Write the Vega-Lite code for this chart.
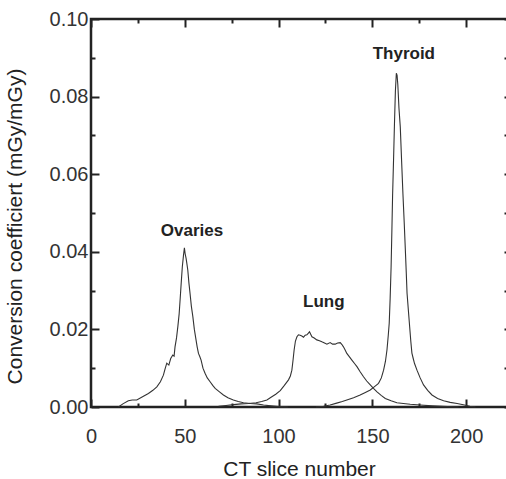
{
  "$schema": "https://vega.github.io/schema/vega-lite/v6.json",
  "width": 422,
  "height": 388,
  "autosize": {"type": "none"},
  "padding": {"left": 91, "top": 19, "right": 0, "bottom": 72},
  "background": "white",
  "config": {
    "view": {"stroke": "#222", "strokeWidth": 2.5},
    "axis": {"grid": false, "domain": false, "tickColor": "#222", "tickWidth": 2, "labelFont": "Liberation Sans", "titleFont": "Liberation Sans", "labelColor": "#333", "titleColor": "#222", "labelFlush": false, "labelOverlap": false}
  },
  "datasets": {
    "curves": [
      {"organ": "Ovaries", "slice": 14.6, "coef": 0},
      {"organ": "Ovaries", "slice": 17, "coef": 0.0008},
      {"organ": "Ovaries", "slice": 19.9, "coef": 0.0016},
      {"organ": "Ovaries", "slice": 22, "coef": 0.0018},
      {"organ": "Ovaries", "slice": 24.4, "coef": 0.0018},
      {"organ": "Ovaries", "slice": 27, "coef": 0.0025},
      {"organ": "Ovaries", "slice": 30.6, "coef": 0.0035},
      {"organ": "Ovaries", "slice": 33, "coef": 0.0043},
      {"organ": "Ovaries", "slice": 35.1, "coef": 0.0052},
      {"organ": "Ovaries", "slice": 37, "coef": 0.0065},
      {"organ": "Ovaries", "slice": 38.6, "coef": 0.0082},
      {"organ": "Ovaries", "slice": 39.5, "coef": 0.0098},
      {"organ": "Ovaries", "slice": 40.4, "coef": 0.0113},
      {"organ": "Ovaries", "slice": 41.5, "coef": 0.0108},
      {"organ": "Ovaries", "slice": 42.5, "coef": 0.0125},
      {"organ": "Ovaries", "slice": 43.6, "coef": 0.0134},
      {"organ": "Ovaries", "slice": 44.3, "coef": 0.0131},
      {"organ": "Ovaries", "slice": 44.8, "coef": 0.0155},
      {"organ": "Ovaries", "slice": 45.6, "coef": 0.0178},
      {"organ": "Ovaries", "slice": 46.3, "coef": 0.0207},
      {"organ": "Ovaries", "slice": 47, "coef": 0.024},
      {"organ": "Ovaries", "slice": 47.5, "coef": 0.0276},
      {"organ": "Ovaries", "slice": 48.1, "coef": 0.032},
      {"organ": "Ovaries", "slice": 48.7, "coef": 0.0362},
      {"organ": "Ovaries", "slice": 49.3, "coef": 0.039},
      {"organ": "Ovaries", "slice": 49.8, "coef": 0.041},
      {"organ": "Ovaries", "slice": 50.2, "coef": 0.0395},
      {"organ": "Ovaries", "slice": 50.7, "coef": 0.0383},
      {"organ": "Ovaries", "slice": 51.1, "coef": 0.037},
      {"organ": "Ovaries", "slice": 51.6, "coef": 0.0353},
      {"organ": "Ovaries", "slice": 52.2, "coef": 0.032},
      {"organ": "Ovaries", "slice": 52.8, "coef": 0.0293},
      {"organ": "Ovaries", "slice": 53.5, "coef": 0.026},
      {"organ": "Ovaries", "slice": 54.3, "coef": 0.0233},
      {"organ": "Ovaries", "slice": 55.1, "coef": 0.02},
      {"organ": "Ovaries", "slice": 56, "coef": 0.0173},
      {"organ": "Ovaries", "slice": 56.6, "coef": 0.0155},
      {"organ": "Ovaries", "slice": 57.3, "coef": 0.0138},
      {"organ": "Ovaries", "slice": 58, "coef": 0.013},
      {"organ": "Ovaries", "slice": 58.7, "coef": 0.0121},
      {"organ": "Ovaries", "slice": 59.7, "coef": 0.01},
      {"organ": "Ovaries", "slice": 60.8, "coef": 0.0087},
      {"organ": "Ovaries", "slice": 62, "coef": 0.0075},
      {"organ": "Ovaries", "slice": 63.5, "coef": 0.0065},
      {"organ": "Ovaries", "slice": 65, "coef": 0.0055},
      {"organ": "Ovaries", "slice": 66.2, "coef": 0.0048},
      {"organ": "Ovaries", "slice": 68.5, "coef": 0.0039},
      {"organ": "Ovaries", "slice": 70.6, "coef": 0.0031},
      {"organ": "Ovaries", "slice": 73, "coef": 0.0024},
      {"organ": "Ovaries", "slice": 75.9, "coef": 0.0018},
      {"organ": "Ovaries", "slice": 78.5, "coef": 0.0014},
      {"organ": "Ovaries", "slice": 81.3, "coef": 0.0011},
      {"organ": "Ovaries", "slice": 85, "coef": 0.0009},
      {"organ": "Ovaries", "slice": 88.4, "coef": 0.0008},
      {"organ": "Ovaries", "slice": 92, "coef": 0.0005},
      {"organ": "Ovaries", "slice": 96, "coef": 0.0003},
      {"organ": "Ovaries", "slice": 100, "coef": 0.0001},
      {"organ": "Ovaries", "slice": 105, "coef": 0},
      {"organ": "Lung", "slice": 68, "coef": 0.0002},
      {"organ": "Lung", "slice": 72, "coef": 0.0004},
      {"organ": "Lung", "slice": 76, "coef": 0.0006},
      {"organ": "Lung", "slice": 80, "coef": 0.0008},
      {"organ": "Lung", "slice": 84, "coef": 0.0009},
      {"organ": "Lung", "slice": 88, "coef": 0.0011},
      {"organ": "Lung", "slice": 91, "coef": 0.0014},
      {"organ": "Lung", "slice": 93.8, "coef": 0.0018},
      {"organ": "Lung", "slice": 96, "coef": 0.0025},
      {"organ": "Lung", "slice": 98.5, "coef": 0.0033},
      {"organ": "Lung", "slice": 100.9, "coef": 0.0042},
      {"organ": "Lung", "slice": 103, "coef": 0.0055},
      {"organ": "Lung", "slice": 105.3, "coef": 0.007},
      {"organ": "Lung", "slice": 106.3, "coef": 0.008},
      {"organ": "Lung", "slice": 107.1, "coef": 0.0095},
      {"organ": "Lung", "slice": 107.7, "coef": 0.012},
      {"organ": "Lung", "slice": 108.3, "coef": 0.0147},
      {"organ": "Lung", "slice": 109, "coef": 0.017},
      {"organ": "Lung", "slice": 109.8, "coef": 0.0181},
      {"organ": "Lung", "slice": 110.6, "coef": 0.0186},
      {"organ": "Lung", "slice": 111.5, "coef": 0.0185},
      {"organ": "Lung", "slice": 112.4, "coef": 0.0183},
      {"organ": "Lung", "slice": 113.3, "coef": 0.018},
      {"organ": "Lung", "slice": 114.2, "coef": 0.0185},
      {"organ": "Lung", "slice": 115.1, "coef": 0.0186},
      {"organ": "Lung", "slice": 115.8, "coef": 0.019},
      {"organ": "Lung", "slice": 116.5, "coef": 0.0194},
      {"organ": "Lung", "slice": 117.2, "coef": 0.0187},
      {"organ": "Lung", "slice": 117.8, "coef": 0.0181},
      {"organ": "Lung", "slice": 119, "coef": 0.0178},
      {"organ": "Lung", "slice": 120.4, "coef": 0.0173},
      {"organ": "Lung", "slice": 121.8, "coef": 0.0171},
      {"organ": "Lung", "slice": 123.1, "coef": 0.0168},
      {"organ": "Lung", "slice": 124.5, "coef": 0.0165},
      {"organ": "Lung", "slice": 125.8, "coef": 0.0162},
      {"organ": "Lung", "slice": 126.7, "coef": 0.0164},
      {"organ": "Lung", "slice": 127.5, "coef": 0.0166},
      {"organ": "Lung", "slice": 128.8, "coef": 0.0162},
      {"organ": "Lung", "slice": 130.2, "coef": 0.0162},
      {"organ": "Lung", "slice": 131.5, "coef": 0.0165},
      {"organ": "Lung", "slice": 132.9, "coef": 0.0166},
      {"organ": "Lung", "slice": 133.8, "coef": 0.0161},
      {"organ": "Lung", "slice": 134.6, "coef": 0.0155},
      {"organ": "Lung", "slice": 135.5, "coef": 0.0147},
      {"organ": "Lung", "slice": 136.4, "coef": 0.0138},
      {"organ": "Lung", "slice": 137.7, "coef": 0.013},
      {"organ": "Lung", "slice": 139.1, "coef": 0.0121},
      {"organ": "Lung", "slice": 140.5, "coef": 0.0112},
      {"organ": "Lung", "slice": 141.8, "coef": 0.0104},
      {"organ": "Lung", "slice": 143.5, "coef": 0.0091},
      {"organ": "Lung", "slice": 145.3, "coef": 0.0078},
      {"organ": "Lung", "slice": 147, "coef": 0.0067},
      {"organ": "Lung", "slice": 148.9, "coef": 0.0057},
      {"organ": "Lung", "slice": 150.6, "coef": 0.0048},
      {"organ": "Lung", "slice": 152.5, "coef": 0.0039},
      {"organ": "Lung", "slice": 154.7, "coef": 0.003},
      {"organ": "Lung", "slice": 156.9, "coef": 0.0022},
      {"organ": "Lung", "slice": 160, "coef": 0.0016},
      {"organ": "Lung", "slice": 163.1, "coef": 0.0011},
      {"organ": "Lung", "slice": 166.5, "coef": 0.0009},
      {"organ": "Lung", "slice": 170.2, "coef": 0.0007},
      {"organ": "Lung", "slice": 175.5, "coef": 0.0005},
      {"organ": "Lung", "slice": 182, "coef": 0.0003},
      {"organ": "Lung", "slice": 190, "coef": 0.0001},
      {"organ": "Lung", "slice": 196, "coef": 0},
      {"organ": "Thyroid", "slice": 120, "coef": 0},
      {"organ": "Thyroid", "slice": 124, "coef": 0.0002},
      {"organ": "Thyroid", "slice": 127.5, "coef": 0.0005},
      {"organ": "Thyroid", "slice": 131, "coef": 0.001},
      {"organ": "Thyroid", "slice": 134, "coef": 0.0014},
      {"organ": "Thyroid", "slice": 136.4, "coef": 0.0018},
      {"organ": "Thyroid", "slice": 140, "coef": 0.0024},
      {"organ": "Thyroid", "slice": 143.5, "coef": 0.0031},
      {"organ": "Thyroid", "slice": 146, "coef": 0.0037},
      {"organ": "Thyroid", "slice": 148.9, "coef": 0.0044},
      {"organ": "Thyroid", "slice": 151, "coef": 0.0052},
      {"organ": "Thyroid", "slice": 153.3, "coef": 0.0061},
      {"organ": "Thyroid", "slice": 154.8, "coef": 0.0075},
      {"organ": "Thyroid", "slice": 156, "coef": 0.0095},
      {"organ": "Thyroid", "slice": 157, "coef": 0.0118},
      {"organ": "Thyroid", "slice": 157.8, "coef": 0.0147},
      {"organ": "Thyroid", "slice": 158.5, "coef": 0.0185},
      {"organ": "Thyroid", "slice": 159, "coef": 0.0216},
      {"organ": "Thyroid", "slice": 159.5, "coef": 0.028},
      {"organ": "Thyroid", "slice": 160, "coef": 0.036},
      {"organ": "Thyroid", "slice": 160.4, "coef": 0.045},
      {"organ": "Thyroid", "slice": 160.8, "coef": 0.0545},
      {"organ": "Thyroid", "slice": 161.3, "coef": 0.0635},
      {"organ": "Thyroid", "slice": 161.8, "coef": 0.073},
      {"organ": "Thyroid", "slice": 162.3, "coef": 0.0815},
      {"organ": "Thyroid", "slice": 162.8, "coef": 0.086},
      {"organ": "Thyroid", "slice": 163.2, "coef": 0.0855},
      {"organ": "Thyroid", "slice": 163.6, "coef": 0.083},
      {"organ": "Thyroid", "slice": 164.2, "coef": 0.077},
      {"organ": "Thyroid", "slice": 164.9, "coef": 0.0722},
      {"organ": "Thyroid", "slice": 165.6, "coef": 0.0635},
      {"organ": "Thyroid", "slice": 166.3, "coef": 0.0551},
      {"organ": "Thyroid", "slice": 167, "coef": 0.0475},
      {"organ": "Thyroid", "slice": 167.6, "coef": 0.0405},
      {"organ": "Thyroid", "slice": 168.1, "coef": 0.0345},
      {"organ": "Thyroid", "slice": 168.5, "coef": 0.0294},
      {"organ": "Thyroid", "slice": 169.2, "coef": 0.025},
      {"organ": "Thyroid", "slice": 169.9, "coef": 0.0207},
      {"organ": "Thyroid", "slice": 170.5, "coef": 0.017},
      {"organ": "Thyroid", "slice": 171.1, "coef": 0.0139},
      {"organ": "Thyroid", "slice": 171.8, "coef": 0.0125},
      {"organ": "Thyroid", "slice": 172.5, "coef": 0.0112},
      {"organ": "Thyroid", "slice": 173.8, "coef": 0.0095},
      {"organ": "Thyroid", "slice": 175.5, "coef": 0.0075},
      {"organ": "Thyroid", "slice": 177.3, "coef": 0.0057},
      {"organ": "Thyroid", "slice": 179.5, "coef": 0.0043},
      {"organ": "Thyroid", "slice": 181.8, "coef": 0.0031},
      {"organ": "Thyroid", "slice": 184.8, "coef": 0.0022},
      {"organ": "Thyroid", "slice": 188, "coef": 0.0016},
      {"organ": "Thyroid", "slice": 191.5, "coef": 0.0012},
      {"organ": "Thyroid", "slice": 195.2, "coef": 0.0009},
      {"organ": "Thyroid", "slice": 198.5, "coef": 0.0006},
      {"organ": "Thyroid", "slice": 202, "coef": 0.0002},
      {"organ": "Thyroid", "slice": 205, "coef": 0}
    ],
    "labels": [
      {"label": "Ovaries", "slice": 53.85, "coef": 0.0441},
      {"label": "Lung", "slice": 124.1, "coef": 0.0257},
      {"label": "Thyroid", "slice": 166.8, "coef": 0.0896}
    ]
  },
  "layer": [
    {
      "data": {"name": "curves"},
      "mark": {"type": "line", "color": "#333", "strokeWidth": 1.1, "interpolate": "linear"},
      "encoding": {
        "x": {"field": "slice", "type": "quantitative", "scale": {"domain": [0, 225], "nice": false, "zero": false},
          "axis": {"orient": "bottom", "values": [0, 50, 100, 150, 200], "ticks": false, "labelPadding": 19, "labelFontSize": 20,
            "title": "CT slice number", "titleFontSize": 21, "titleFontWeight": "normal", "titleBaseline": "alphabetic", "titleY": 68, "titleX": 208}},
        "y": {"field": "coef", "type": "quantitative", "scale": {"domain": [0, 0.1], "nice": false, "zero": false},
          "axis": {"orient": "left", "values": [0, 0.02, 0.04, 0.06, 0.08, 0.1], "format": ".2f", "ticks": false, "labelPadding": 3, "labelFontSize": 20,
            "title": "Conversion coefficiert (mGy/mGy)", "titleFontSize": 21, "titleFontWeight": "normal", "titleBaseline": "alphabetic", "titleAngle": -90, "titleX": -70, "titleY": 207}},
        "detail": {"field": "organ", "type": "nominal"}
      }
    },
    {
      "data": {"name": "labels"},
      "mark": {"type": "text", "font": "Liberation Sans", "fontWeight": "bold", "fontSize": 17, "baseline": "alphabetic", "align": "center", "color": "#222"},
      "encoding": {
        "x": {"field": "slice", "type": "quantitative", "axis": {"orient": "top", "values": [0, 50, 100, 150, 200], "labels": false, "tickSize": -8, "title": null}},
        "y": {"field": "coef", "type": "quantitative", "axis": {"orient": "right", "values": [0, 0.01, 0.02, 0.03, 0.04, 0.05, 0.06, 0.07, 0.08, 0.09, 0.1], "labels": false, "tickSize": -9, "title": null}},
        "text": {"field": "label", "type": "nominal"}
      }
    },
    {
      "data": {"name": "labels"},
      "mark": {"type": "point", "opacity": 0},
      "encoding": {
        "x": {"field": "slice", "type": "quantitative", "axis": {"orient": "bottom", "values": [25, 75, 125, 175, 225], "labels": false, "tickSize": -4, "title": null}},
        "y": {"field": "coef", "type": "quantitative", "axis": {"orient": "left", "values": [0.01, 0.03, 0.05, 0.07, 0.09], "labels": false, "tickSize": -4, "title": null}}
      }
    },
    {
      "data": {"name": "labels"},
      "mark": {"type": "point", "opacity": 0},
      "encoding": {
        "x": {"field": "slice", "type": "quantitative", "axis": {"orient": "top", "values": [25, 75, 125, 175, 225], "labels": false, "tickSize": -4, "title": null}},
        "y": {"field": "coef", "type": "quantitative", "axis": {"orient": "left", "values": [0, 0.02, 0.04, 0.06, 0.08, 0.1], "labels": false, "tickSize": -8, "title": null}}
      }
    },
    {
      "data": {"name": "labels"},
      "mark": {"type": "point", "opacity": 0},
      "encoding": {
        "x": {"field": "slice", "type": "quantitative", "axis": {"orient": "bottom", "values": [0, 50, 100, 150, 200], "labels": false, "tickSize": -8, "title": null}},
        "y": {"field": "coef", "type": "quantitative", "axis": null}
      }
    }
  ],
  "resolve": {"axis": {"x": "independent", "y": "independent"}}
}
